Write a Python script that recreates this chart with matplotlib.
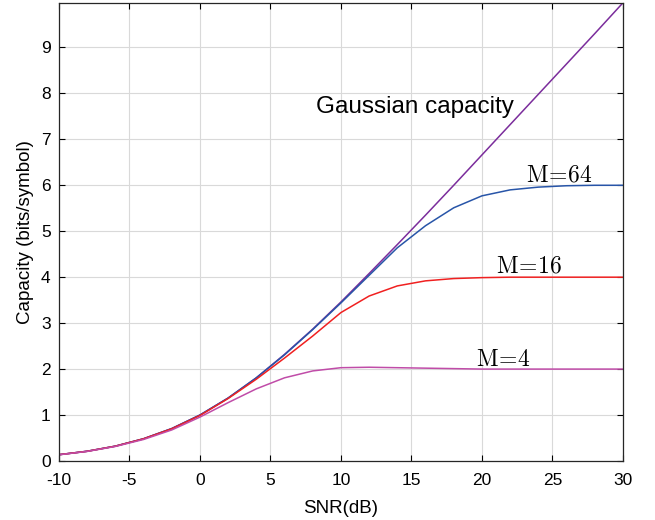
import matplotlib
matplotlib.use('Agg')
import matplotlib.pyplot as plt

snr_db = [-10, -8, -6, -4, -2, 0, 2, 4, 6, 8, 10, 12, 14, 16, 18, 20, 22, 24, 26, 28, 30]

gaussian = [0.137, 0.212, 0.323, 0.484, 0.706, 1.0, 1.37, 1.81, 2.32, 2.87, 3.46,
            4.08, 4.71, 5.35, 6.0, 6.66, 7.32, 7.98, 8.64, 9.30, 9.97]
m64 = [0.137, 0.212, 0.323, 0.484, 0.705, 1.0, 1.37, 1.81, 2.31, 2.86, 3.44,
       4.04, 4.64, 5.12, 5.51, 5.77, 5.90, 5.96, 5.99, 6.0, 6.0]
m16 = [0.137, 0.211, 0.322, 0.482, 0.70, 0.99, 1.36, 1.78, 2.24, 2.72, 3.23,
       3.59, 3.81, 3.92, 3.97, 3.99, 4.0, 4.0, 4.0, 4.0, 4.0]
m4 = [0.135, 0.208, 0.316, 0.468, 0.675, 0.955, 1.27, 1.57, 1.81, 1.96, 2.03,
      2.04, 2.03, 2.02, 2.01, 2.0, 2.0, 2.0, 2.0, 2.0, 2.0]

plt.rcParams['font.family'] = ['Liberation Sans', 'DejaVu Sans']
plt.rcParams['mathtext.fontset'] = 'cm'
plt.rcParams['axes.unicode_minus'] = False

fig = plt.figure(figsize=(6.55, 5.2), dpi=100)
ax = fig.add_axes([0.090, 0.1135, 0.861, 0.881])

ax.plot(snr_db, gaussian, color='#7B2D9C', lw=1.1)
ax.plot(snr_db, m64, color='#2855A8', lw=1.1)
ax.plot(snr_db, m16, color='#F02020', lw=1.1)
ax.plot(snr_db, m4, color='#C04CA8', lw=1.1)

ax.set_xlim(-10, 30)
ax.set_ylim(0, 9.97)
ax.set_xticks(range(-10, 31, 5))
ax.set_yticks(range(0, 10))
ax.grid(True, color='#d9d9d9', lw=0.8)
ax.set_axisbelow(True)
ax.tick_params(direction='in', top=True, right=True, labelsize=12.5, length=4)
ax.tick_params(axis='x', pad=9)
ax.tick_params(axis='y', pad=6)
for s in ax.spines.values():
    s.set_color('#262626')
    s.set_linewidth(0.9)

ax.set_xlabel('SNR(dB)', fontsize=13.5, labelpad=8)
ax.set_ylabel('Capacity (bits/symbol)', fontsize=13.5, labelpad=5)

ax.text(8.2, 7.58, 'Gaussian capacity', fontsize=17.5, va='baseline')
ax.text(23.1, 6.08, r'$\mathrm{M\!=\!64}$', fontsize=17, va='baseline')
ax.text(21.0, 4.1, r'$\mathrm{M\!=\!16}$', fontsize=17, va='baseline')
ax.text(19.6, 2.07, r'$\mathrm{M\!=\!4}$', fontsize=17, va='baseline')

fig.savefig('out.png', dpi=100)
